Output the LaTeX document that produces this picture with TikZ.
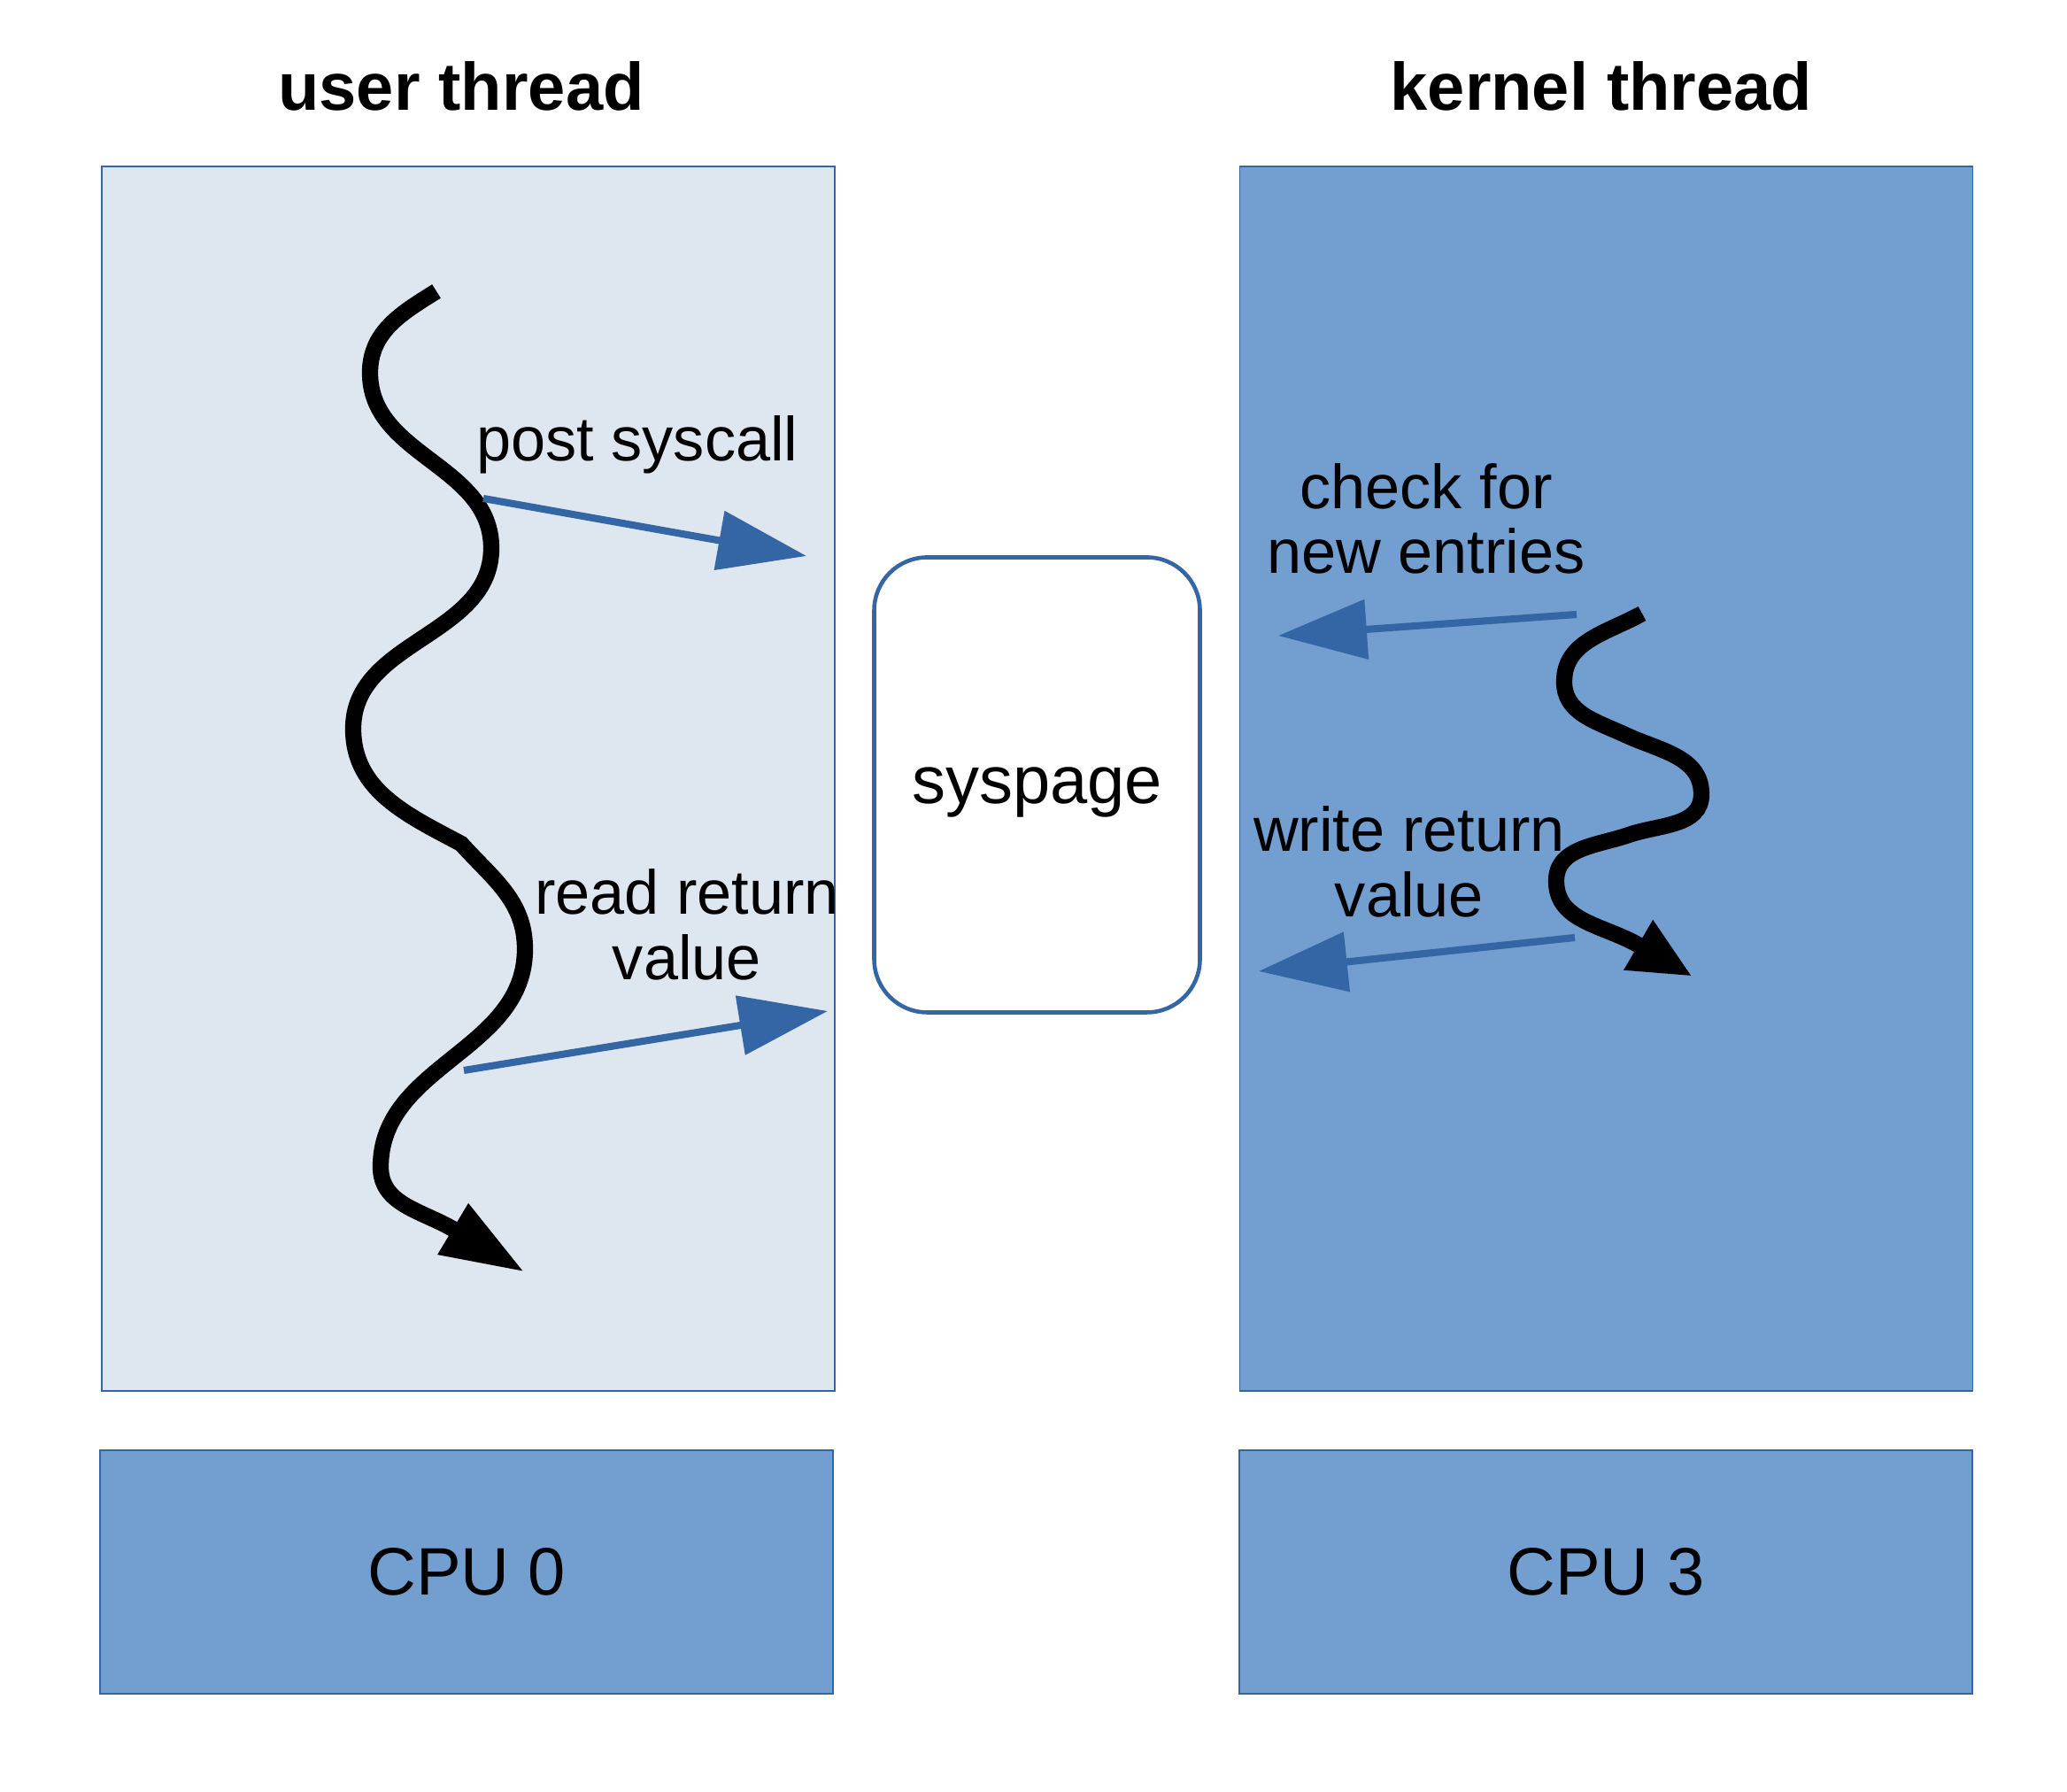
\documentclass[tikz,border=0pt]{standalone}
\usepackage{fontspec}
\setmainfont{Liberation Sans}
\usetikzlibrary{arrows.meta}

\definecolor{darkblue}{HTML}{3465A4}
\definecolor{midblue}{HTML}{729FCF}
\definecolor{paleblue}{HTML}{DEE6EF}

\begin{document}
\begin{tikzpicture}[
  panel/.style={draw=darkblue, line width=0.4pt, minimum width=8.28cm, minimum height=13.83cm, inner sep=0pt},
  cpubox/.style={draw=darkblue, fill=midblue, line width=0.4pt, minimum width=8.28cm, minimum height=2.75cm, font=\fontsize{21.6}{24}\selectfont},
  headline/.style={font=\fontsize{21.6}{24}\selectfont\bfseries},
  lbl/.style={font=\fontsize{20}{21}\selectfont, align=center, inner sep=0pt},
  msg/.style={darkblue, line width=2.3pt, -{Triangle[length=1cm, width=0.66cm]}},
  thread/.style={line width=5.2pt},
]
\fill[white] (0,0) rectangle (23.35,20.24);
\useasboundingbox (0,0) rectangle (23.35,20.24);

% the two cores
\node[panel, fill=paleblue] (user) at (5.29,11.445) {};
\node[panel, fill=midblue] (kernel) at (18.145,11.445) {};
\node[headline] (usertitle) at (5.21,19.27) {user thread};
\node[headline] (kerneltitle) at (18.09,19.27) {kernel thread};
\foreach \x/\n in {5.27/0,18.14/3}
{
    \node[cpubox] (cpu\n) at (\x,2.485) {CPU \n};
}

\node[draw=darkblue, fill=white, line width=1.3pt, rounded corners=0.6cm, minimum width=3.68cm, minimum height=5.14cm, text height=1.2em, text depth=0pt, font=\fontsize{21.6}{24}\selectfont] (syspage) at (11.715,11.375) {syspage};

% threads
\draw[thread, -{Triangle[length=0.95cm, width=0.62cm]}]
  (4.93,16.95) to[out=212,in=90] (4.18,16.03) to[out=270,in=90] (5.55,14.05)
  to[out=270,in=90] (3.99,12.01) to[out=270,in=152] (5.21,10.71)
  to[out=-48,in=90] (5.93,9.52) to[out=270,in=90] (4.30,7.06)
  to[out=270,in=150] (5.115,6.36) -- (5.93,5.87);
\draw[thread, -{Triangle[length=0.71cm, width=0.6cm]}]
  (18.55,13.31) to[out=209,in=90] (17.67,12.54) to[out=270,in=155] (18.36,11.94)
  to[out=-25,in=90] (19.22,11.27) to[out=270,in=19] (18.40,10.81)
  to[out=199,in=90] (17.58,10.29) to[out=270,in=150] (18.51,9.565) -- (19.12,9.21);

% messages
\coordinate (post0) at (5.46,14.61);
\coordinate (post1) at (9.11,13.96);
\coordinate (read0) at (5.24,8.15);
\coordinate (read1) at (9.35,8.82);
\coordinate (check0) at (17.81,13.30);
\coordinate (check1) at (14.44,13.06);
\coordinate (write0) at (17.79,9.65);
\coordinate (write1) at (14.22,9.27);
\foreach \a in {post,read,check,write}
{
    \draw[msg] (\a0) -- (\a1);
}

\node[lbl, anchor=base] (postlbl) at (7.20,15.03) {post syscall};
\node[lbl] (readlbl) at (7.76,9.80) {read return\\value};
\node[lbl] (checklbl) at (16.11,14.38) {check for\\new entries};
\node[lbl] (writelbl) at (15.92,10.51) {write return\\value};
\end{tikzpicture}
\end{document}
